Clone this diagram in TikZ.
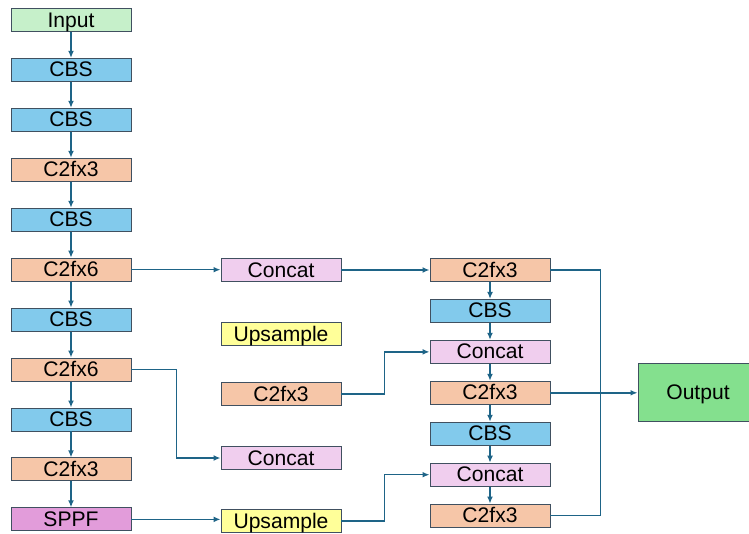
\documentclass[tikz,border=0pt]{standalone}
\usepackage{fontspec}
\setmainfont{Liberation Sans}
\usetikzlibrary{positioning,arrows.meta}

\definecolor{cbsblue}{RGB}{130,202,236}
\definecolor{c2fpeach}{RGB}{246,198,168}
\definecolor{catpink}{RGB}{240,206,238}
\definecolor{upyellow}{RGB}{255,255,153}
\definecolor{sppfpurple}{RGB}{226,156,218}
\definecolor{inpgreen}{RGB}{198,240,202}
\definecolor{outgreen}{RGB}{132,224,142}
\definecolor{edgegray}{RGB}{64,80,96}
\definecolor{linkblue}{RGB}{30,100,135}

\tikzset{
  block/.style={draw=edgegray, line width=0.8pt, minimum width=3.6cm, minimum height=0.69cm,
                inner sep=0pt, text height=12pt, text depth=0pt, font=\fontsize{18}{21}\selectfont},
  inblock/.style={block, fill=inpgreen},
  cbs/.style={block, fill=cbsblue},
  c2f/.style={block, fill=c2fpeach},
  cat/.style={block, fill=catpink},
  upsmp/.style={block, fill=upyellow},
  sppf/.style={block, fill=sppfpurple},
  outblock/.style={block, fill=outgreen, minimum height=1.74cm},
  link/.style={draw=linkblue, line width=1.2pt, -{Latex[length=6pt,width=5pt]}},
  wire/.style={draw=linkblue, line width=1.2pt},
}

\begin{document}
\begin{tikzpicture}[node distance=0.78cm]
    \useasboundingbox (0,0) rectangle (22.47,-15.99);

    % Backbone
    \node[inblock] (input) at (2.13,-0.6) {Input};
    \node[cbs, below=of input] (b1) {CBS};
    \node[cbs, below=of b1] (b2) {CBS};
    \node[c2f, below=of b2] (b3) {C2fx3};
    \node[cbs, below=of b3] (b4) {CBS};
    \node[c2f, below=of b4] (b5) {C2fx6};
    \node[cbs, below=of b5] (b6) {CBS};
    \node[c2f, below=of b6] (b7) {C2fx6};
    \node[cbs, below=of b7] (b8) {CBS};
    \node[c2f, below=of b8] (b9) {C2fx3};
    \node[sppf, below=of b9] (b10) {SPPF};

    \foreach \a/\b in {input/b1, b1/b2, b2/b3, b3/b4, b4/b5, b5/b6, b6/b7, b7/b8, b8/b9, b9/b10}
        \draw[link] (\a) -- (\b);

    % Middle column
    \node[cat] (m1) at (8.43,-8.1) {Concat};
    \node[upsmp] (m2) at (8.43,-10.02) {Upsample};
    \node[c2f] (m3) at (8.43,-11.82) {C2fx3};
    \node[cat] (m4) at (8.43,-13.74) {Concat};
    \node[upsmp] (m5) at (8.43,-15.63) {Upsample};

    % Head
    \node[c2f] (h1) at (14.7,-8.1) {C2fx3};
    \node[cbs, below=0.51cm of h1] (h2) {CBS};
    \node[cat, below=0.51cm of h2] (h3) {Concat};
    \node[c2f, below=0.51cm of h3] (h4) {C2fx3};
    \node[cbs, below=0.51cm of h4] (h5) {CBS};
    \node[cat, below=0.51cm of h5] (h6) {Concat};
    \node[c2f, below=0.51cm of h6] (h7) {C2fx3};

    \foreach \a/\b in {h1/h2, h2/h3, h3/h4, h4/h5, h5/h6, h6/h7}
        \draw[link] (\a) -- (\b);

    \node[outblock] (out) at (20.94,-11.76) {Output};

    % Cross links
    \draw[link] (b5) -- (b5 -| m1.west);
    \draw[link] (m1) -- (h1);
    \draw[link] (b7.east) -- ++(1.35,0) |- (m4.west);
    \draw[link] (b10.east) -- (b10.east -| m5.west);
    \draw[link] (m5.east) -- ++(1.29,0) |- (h6.west);
    \draw[link] (m3.east) -- ++(1.29,0) |- (h3.west);
    \draw[wire] (h1.east) -- ++(1.5,0) |- (h7.east);
    \draw[link] (h4.east) -- (h4.east -| out.west);
\end{tikzpicture}
\end{document}
